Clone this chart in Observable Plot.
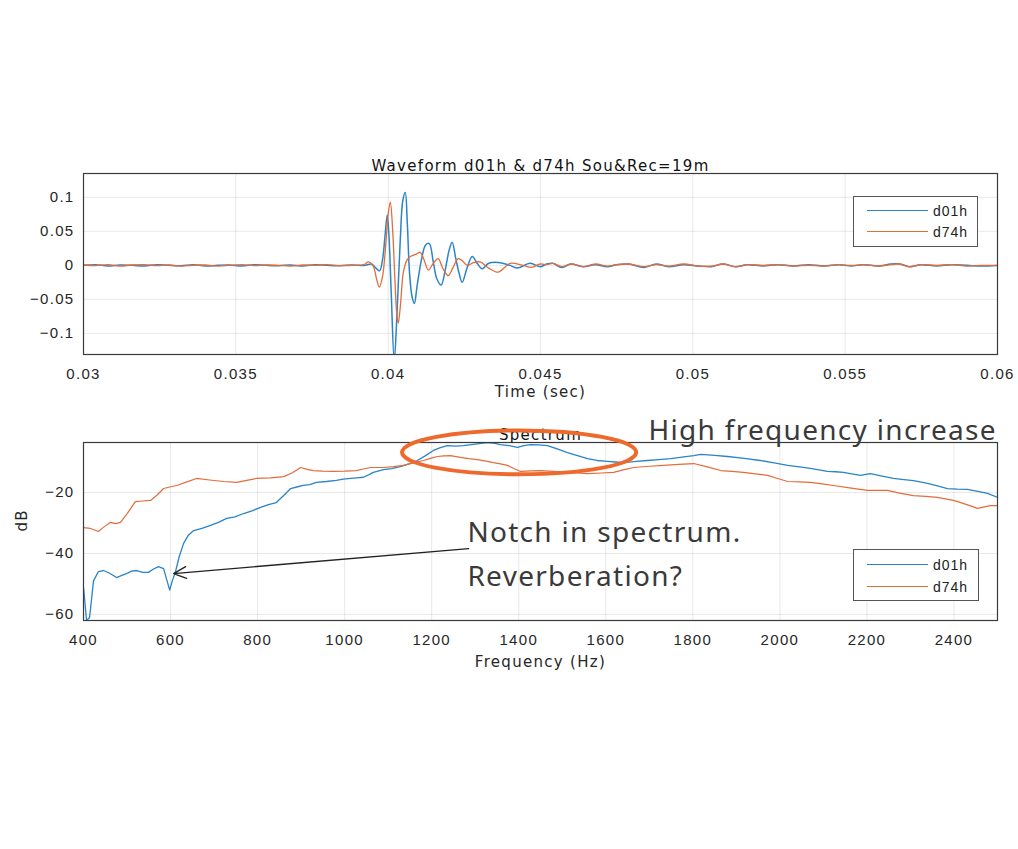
<!DOCTYPE html>
<html>
<head>
<meta charset="utf-8">
<script src="https://cdn.jsdelivr.net/npm/d3@7"></script>
<script src="https://cdn.jsdelivr.net/npm/@observablehq/plot@0.6"></script>
<style>
  body { margin: 0; background: #fff; }
  #root { position: relative; width: 1018px; height: 849px; background: #fff; overflow: hidden; }
  #root svg { position: absolute; left: 0; overflow: visible; }
  .legend { position: absolute; border: 1px solid #555; background: #fff; font-family: "Liberation Sans", Arial, sans-serif; font-size: 14px; letter-spacing: 1px; color: #222; }
  .legend .row { position: absolute; left: 0; width: 100%; height: 16px; }
  .legend .sw { position: absolute; left: 13px; width: 61px; top: 7px; height: 0; border-top: 1.5px solid; }
  .legend .lb { position: absolute; left: 79px; top: 0; line-height: 16px; }
</style>
</head>
<body>
<div id="root"></div>
<script>
// ---------- data ----------
const seriesNames = ["d01h", "d74h"];
const waveTitle = "Waveform d01h & d74h Sou&Rec=19m";
const specTitle = "Spectrum";
const timeTicks = [0.03, 0.035, 0.04, 0.045, 0.05, 0.055, 0.06];
const ampTicks = [-0.1, -0.05, 0, 0.05, 0.1];
const freqTicks = [400, 600, 800, 1000, 1200, 1400, 1600, 1800, 2000, 2200, 2400];
const dbTicks = [-60, -40, -20];

// waveform [time (s), amplitude]
const d01hWave = [
  [0.0300,0],[0.0304,0.001],[0.0308,-0.001],[0.0312,0.0005],[0.0316,0],[0.0320,-0.001],
  [0.0324,0.001],[0.0328,0],[0.0332,-0.0005],[0.0336,0.001],[0.0340,-0.001],[0.0344,0],
  [0.0348,0.0005],[0.0352,-0.001],[0.0356,0.001],[0.0360,0],[0.0364,-0.0005],[0.0368,0.0005],
  [0.0372,-0.001],[0.0376,0.001],[0.0380,0],[0.0384,-0.0005],[0.0388,0.0005],
  [0.03925,0.000],[0.03945,0.002],[0.03960,-0.004],[0.03972,-0.008],[0.03982,0.010],
  [0.03990,0.045],[0.03997,0.074],[0.04003,0.040],[0.04010,-0.040],[0.04020,-0.140],
  [0.04030,-0.060],[0.04040,0.040],[0.04048,0.095],[0.04056,0.107],[0.04063,0.060],
  [0.04070,-0.010],[0.04078,-0.045],[0.04086,-0.056],[0.04095,-0.030],[0.04110,0.010],
  [0.04123,0.030],[0.04135,0.032],[0.04148,0.005],[0.04160,-0.020],[0.04174,-0.029],
  [0.04188,-0.005],[0.04200,0.022],[0.04210,0.034],[0.04222,0.010],[0.04233,-0.012],
  [0.04243,-0.025],[0.04258,-0.005],[0.04276,0.013],[0.04292,0.003],[0.04309,-0.005],
  [0.04330,0.003],[0.04368,0.004],[0.04400,0.000],[0.04424,-0.004],[0.04466,0.003],
  [0.04499,-0.002],
  [0.0452,0.002],[0.0454,0.003],[0.0457,-0.003],[0.0460,0.002],[0.0464,-0.002],[0.0468,0.001],
  [0.0472,-0.002],[0.0475,0.001],[0.0479,0.002],[0.0484,-0.003],[0.0488,0.002],[0.0492,-0.002],
  [0.0497,0.001],[0.0502,-0.001],[0.0506,-0.002],[0.0510,0.002],[0.0514,-0.002],[0.0518,0.001],
  [0.0523,-0.001],[0.0528,0.001],[0.0533,-0.001],[0.0538,0.001],[0.0543,-0.001],[0.0548,0.001],
  [0.0552,-0.001],[0.0556,0.001],[0.0561,-0.001],[0.0565,0.002],[0.0568,0.002],[0.0571,-0.002],
  [0.0575,0.001],[0.0580,-0.001],[0.0585,0.001],[0.0590,0],[0.0595,-0.001],[0.0600,0]
];
const d74hWave = [
  [0.0300,0.0005],[0.0304,-0.0005],[0.0308,0.001],[0.0312,-0.001],[0.0316,0.0005],[0.0320,0.001],
  [0.0324,-0.0005],[0.0328,0.0005],[0.0332,-0.001],[0.0336,0],[0.0340,0.0005],[0.0344,-0.001],
  [0.0348,0],[0.0352,0.001],[0.0356,-0.0005],[0.0360,0.0005],[0.0364,0],[0.0368,-0.001],
  [0.0372,0.0005],[0.0376,0],[0.0380,0.001],[0.0384,-0.0005],[0.0388,0],
  [0.0392,0.001],[0.03935,0.005],[0.03950,0.000],[0.03962,-0.020],[0.03971,-0.032],
  [0.03982,-0.015],[0.03992,0.030],[0.04000,0.075],[0.04007,0.093],[0.04015,0.050],
  [0.04022,-0.020],[0.04028,-0.070],[0.04033,-0.085],[0.04040,-0.060],[0.04050,-0.010],
  [0.04062,0.008],[0.04073,0.013],[0.04090,0.016],[0.04105,0.019],[0.04118,0.008],
  [0.04132,-0.007],[0.04148,0.003],[0.04164,0.010],[0.04180,-0.005],[0.04197,-0.015],
  [0.04213,-0.003],[0.04230,0.010],[0.04245,0.006],[0.04260,0.000],[0.04280,0.004],
  [0.04302,0.005],[0.04330,-0.004],[0.04361,-0.010],[0.04385,-0.002],[0.04401,0.003],
  [0.04443,0.000],[0.04470,-0.003],[0.04499,0.002],
  [0.0452,0.001],[0.0454,0.003],[0.0457,-0.002],[0.0460,0.002],[0.0464,-0.002],[0.0468,0.002],
  [0.0472,-0.001],[0.0475,0.001],[0.0479,0.002],[0.0484,-0.002],[0.0488,0.001],[0.0492,-0.001],
  [0.0497,0.002],[0.0502,-0.001],[0.0506,-0.001],[0.0510,0.002],[0.0514,-0.002],[0.0518,0.001],
  [0.0523,0],[0.0528,0.001],[0.0533,-0.001],[0.0538,0],[0.0543,-0.001],[0.0548,0.001],
  [0.0552,0],[0.0556,0.001],[0.0561,-0.001],[0.0565,0.001],[0.0568,0.002],[0.0571,-0.002],
  [0.0575,0.001],[0.0580,0],[0.0585,0.001],[0.0590,-0.001],[0.0595,0],[0.0600,0]
];

// spectrum [frequency (Hz), level (dB)]
const d01hSpec = [
  [400,-51],[407,-62],[414,-61],[423,-49],[434,-46],[446,-45.6],[460,-46.5],[476,-47.9],[488,-47.2],
  [499,-46.6],[510,-45.8],[522,-45.6],[536,-46.2],[549,-46.2],[560,-45.2],[572,-44.3],[584,-45],
  [592,-49],[598,-52],[604,-49],[611,-46.2],[620,-41],[630,-36.7],[641,-34],[653,-32.5],
  [672,-31.8],[692,-30.8],[710,-29.8],[729,-28.5],[748,-28],[768,-26.9],[787,-26],[807,-24.9],
  [825,-24],[843,-23.3],[860,-21],[876,-18.7],[890,-18.2],[905,-17.7],[920,-17.4],[935,-16.7],
  [958,-16.4],[981,-16],[997,-15.6],[1013,-15.4],[1028,-15.2],[1043,-15],[1055,-14.2],[1066,-13.4],
  [1089,-12.5],[1108,-12.2],[1128,-11.5],[1148,-10.6],[1167,-9.5],[1185,-8],[1204,-6.2],[1220,-5.3],
  [1236,-4.6],[1255,-4.8],[1273,-4.6],[1300,-4.1],[1328,-3.6],[1345,-3.9],[1358,-4.3],[1378,-4.6],
  [1397,-5.2],[1412,-4.6],[1427,-4.3],[1446,-4.4],[1466,-4.6],[1490,-5.8],[1512,-6.9],[1535,-7.9],
  [1558,-8.9],[1580,-9.5],[1604,-9.8],[1622,-10],[1641,-10.2],[1670,-9.8],[1696,-9.5],[1722,-9.2],
  [1749,-8.9],[1775,-8.4],[1802,-7.9],[1818,-7.5],[1850,-7.8],[1880,-8.2],[1918,-8.8],[1955,-9.5],
  [1987,-10.3],[2018,-11.1],[2045,-11.6],[2070,-12.1],[2090,-12.6],[2109,-13.1],[2128,-13.2],
  [2146,-13.4],[2165,-13.9],[2185,-14.4],[2208,-13.8],[2235,-14.6],[2261,-15.4],[2285,-15.8],
  [2307,-16.1],[2325,-16.6],[2339,-17],[2362,-17.8],[2385,-18.7],[2408,-18.9],[2431,-19],
  [2455,-19.6],[2477,-20.3],[2500,-21.6]
];
const d74hSpec = [
  [400,-31.5],[416,-31.8],[434,-32.8],[448,-31.2],[462,-29.8],[473,-30.2],[485,-29.8],[500,-27],
  [519,-23],[536,-22.8],[554,-22.6],[568,-21],[584,-18.7],[598,-18.2],[614,-17.7],[636,-16.6],
  [660,-15.4],[690,-15.9],[722,-16.4],[752,-16.7],[775,-16],[797,-15.4],[830,-15.2],[860,-14.8],
  [880,-13.5],[899,-11.8],[914,-12.4],[928,-12.8],[950,-13],[974,-13.1],[1000,-13],[1027,-12.8],
  [1043,-12.3],[1059,-11.8],[1089,-11.8],[1112,-11.5],[1135,-11.1],[1158,-10.3],[1181,-9.5],
  [1197,-8.8],[1213,-8.2],[1228,-8],[1243,-7.9],[1266,-8.5],[1285,-8.9],[1305,-9.2],[1325,-9.7],
  [1342,-10.2],[1358,-10.6],[1374,-11.1],[1390,-12.2],[1404,-13.1],[1428,-12.9],[1450,-12.8],
  [1480,-13.1],[1512,-13.4],[1535,-13.6],[1558,-13.8],[1590,-13.6],[1618,-13.4],[1640,-12.6],
  [1664,-11.8],[1700,-11.4],[1733,-11.1],[1768,-10.8],[1802,-10.5],[1833,-11.6],[1864,-12.8],
  [1890,-13.1],[1916,-13.4],[1944,-13.9],[1972,-14.4],[1995,-15.4],[2018,-16.4],[2045,-16.5],
  [2070,-16.7],[2097,-17.2],[2123,-17.7],[2160,-18.5],[2201,-19.3],[2247,-19.3],[2275,-20.2],
  [2307,-21],[2335,-21.3],[2362,-21.6],[2380,-22.1],[2399,-22.6],[2428,-23.9],[2454,-25.2],
  [2470,-24.7],[2484,-24.3],[2500,-24.3]
];

// annotations (data units of the spectrum panel)
const annotTexts = [
  {f: 1698, db: 0.3, label: "High frequency increase"},
  {f: 1282, db: -33.4, label: "Notch in spectrum."},
  {f: 1282, db: -47.9, label: "Reverberation?"}
];
const notchArrow = [{f1: 1285, db1: -38.4, f2: 607, db2: -46.6}];
const highlight = {f: 1402, db: -7.0, rf: 269, rdb: 7.2};

// ---------- styling ----------
const BLUE = "#2a84c8";
const ORANGE = "#e36c3a";
const AXIS_FONT = "'Liberation Sans', Arial, sans-serif";
const LABEL_FONT = "'DejaVu Sans', sans-serif";
const root = document.getElementById("root");

const fmtTime = d => String(+d.toFixed(3));
const fmtAmp = d => d === 0 ? "0" : (d < 0 ? "\u2212" : "") + String(+Math.abs(d).toFixed(2));
const fmtDb = d => (d < 0 ? "\u2212" : "") + Math.abs(d);
const fmtFreq = d => String(d);

const baseStyle = {fontFamily: AXIS_FONT, fontSize: "15px", letterSpacing: "1.3px", color: "#262626", background: "transparent", overflow: "visible"};
const labelOpts = {fontFamily: LABEL_FONT, fontSize: 15, fill: "#262626", style: "letter-spacing:2px"};

// ---------- waveform panel ----------
const wave = Plot.plot({
  width: 1018, height: 270,
  marginLeft: 83, marginRight: 21, marginTop: 33, marginBottom: 56,
  style: baseStyle,
  x: {domain: [0.03, 0.06], ticks: timeTicks, tickFormat: fmtTime, tickSize: 0, tickPadding: 14, label: null, grid: true},
  y: {domain: [-0.131, 0.135], ticks: ampTicks, tickFormat: fmtAmp, tickSize: 0, tickPadding: 9, label: null, grid: true},
  marks: [
    Plot.line(d01hWave, {x: d => d[0], y: d => d[1], stroke: BLUE, strokeWidth: 1.5, curve: "catmull-rom", clip: true}),
    Plot.line(d74hWave, {x: d => d[0], y: d => d[1], stroke: ORANGE, strokeWidth: 1.3, curve: "catmull-rom", clip: true}),
    Plot.frame({stroke: "#3a3a3a", strokeWidth: 1.2}),
    Plot.text([waveTitle], {text: d => d, frameAnchor: "top", dy: -13, ...labelOpts, fill: "#111"}),
    Plot.text(["Time (sec)"], {text: d => d, frameAnchor: "bottom", dy: 42, ...labelOpts})
  ]
});
wave.style.top = "140px";
root.appendChild(wave);

// ---------- spectrum panel ----------
const spec = Plot.plot({
  width: 1018, height: 270,
  marginLeft: 83, marginRight: 21, marginTop: 32, marginBottom: 60,
  style: baseStyle,
  x: {domain: [400, 2500], ticks: freqTicks, tickFormat: fmtFreq, tickSize: 0, tickPadding: 14, label: null, grid: true},
  y: {domain: [-62, -3.6], ticks: dbTicks, tickFormat: fmtDb, tickSize: 0, tickPadding: 9, label: null, grid: true},
  marks: [
    Plot.line(d01hSpec, {x: d => d[0], y: d => d[1], stroke: BLUE, strokeWidth: 1.3, clip: true}),
    Plot.line(d74hSpec, {x: d => d[0], y: d => d[1], stroke: ORANGE, strokeWidth: 1.2, clip: true}),
    Plot.frame({stroke: "#3a3a3a", strokeWidth: 1.2}),
    Plot.text([specTitle], {text: d => d, frameAnchor: "top", dy: -13, ...labelOpts, fill: "#111"}),
    Plot.text(["Frequency (Hz)"], {text: d => d, frameAnchor: "bottom", dy: 46, ...labelOpts}),
    Plot.text(["dB"], {text: d => d, frameAnchor: "left", dx: -61, rotate: -90, ...labelOpts}),
    Plot.arrow(notchArrow, {x1: "f1", y1: "db1", x2: "f2", y2: "db2", stroke: "#222", strokeWidth: 1.3, headLength: 16, headAngle: 50}),
    Plot.text(annotTexts, {x: "f", y: "db", text: "label", textAnchor: "start", lineAnchor: "middle",
      fontSize: 28, fontFamily: "'Noto Sans', 'Open Sans', sans-serif", fill: "#3a3a3a", style: "letter-spacing:1.4px"})
  ]
});
spec.style.top = "410px";
{
  const sx = spec.scale("x"), sy = spec.scale("y");
  const cx = sx.apply(highlight.f), cy = sy.apply(highlight.db);
  d3.select(spec).append("ellipse")
    .attr("cx", cx).attr("cy", cy)
    .attr("rx", Math.abs(sx.apply(highlight.f + highlight.rf) - cx))
    .attr("ry", Math.abs(sy.apply(highlight.db + highlight.rdb) - cy))
    .attr("fill", "none").attr("stroke", "#ee6a2c").attr("stroke-width", 4);
}
root.appendChild(spec);

// ---------- legends ----------
function legend(left, top, w, h, rows) {
  const box = document.createElement("div");
  box.className = "legend";
  Object.assign(box.style, {left: left + "px", top: top + "px", width: w + "px", height: h + "px"});
  rows.forEach(r => {
    const row = document.createElement("div");
    row.className = "row";
    row.style.top = r.y + "px";
    row.innerHTML = `<div class="sw" style="border-color:${r.color}"></div><div class="lb">${r.name}</div>`;
    box.appendChild(row);
  });
  root.appendChild(box);
}
legend(853, 196, 123, 49, [{name: seriesNames[0], color: BLUE, y: 6}, {name: seriesNames[1], color: ORANGE, y: 27}]);
legend(853, 549, 124, 50, [{name: seriesNames[0], color: BLUE, y: 7}, {name: seriesNames[1], color: ORANGE, y: 29}]);
</script>
</body>
</html>
